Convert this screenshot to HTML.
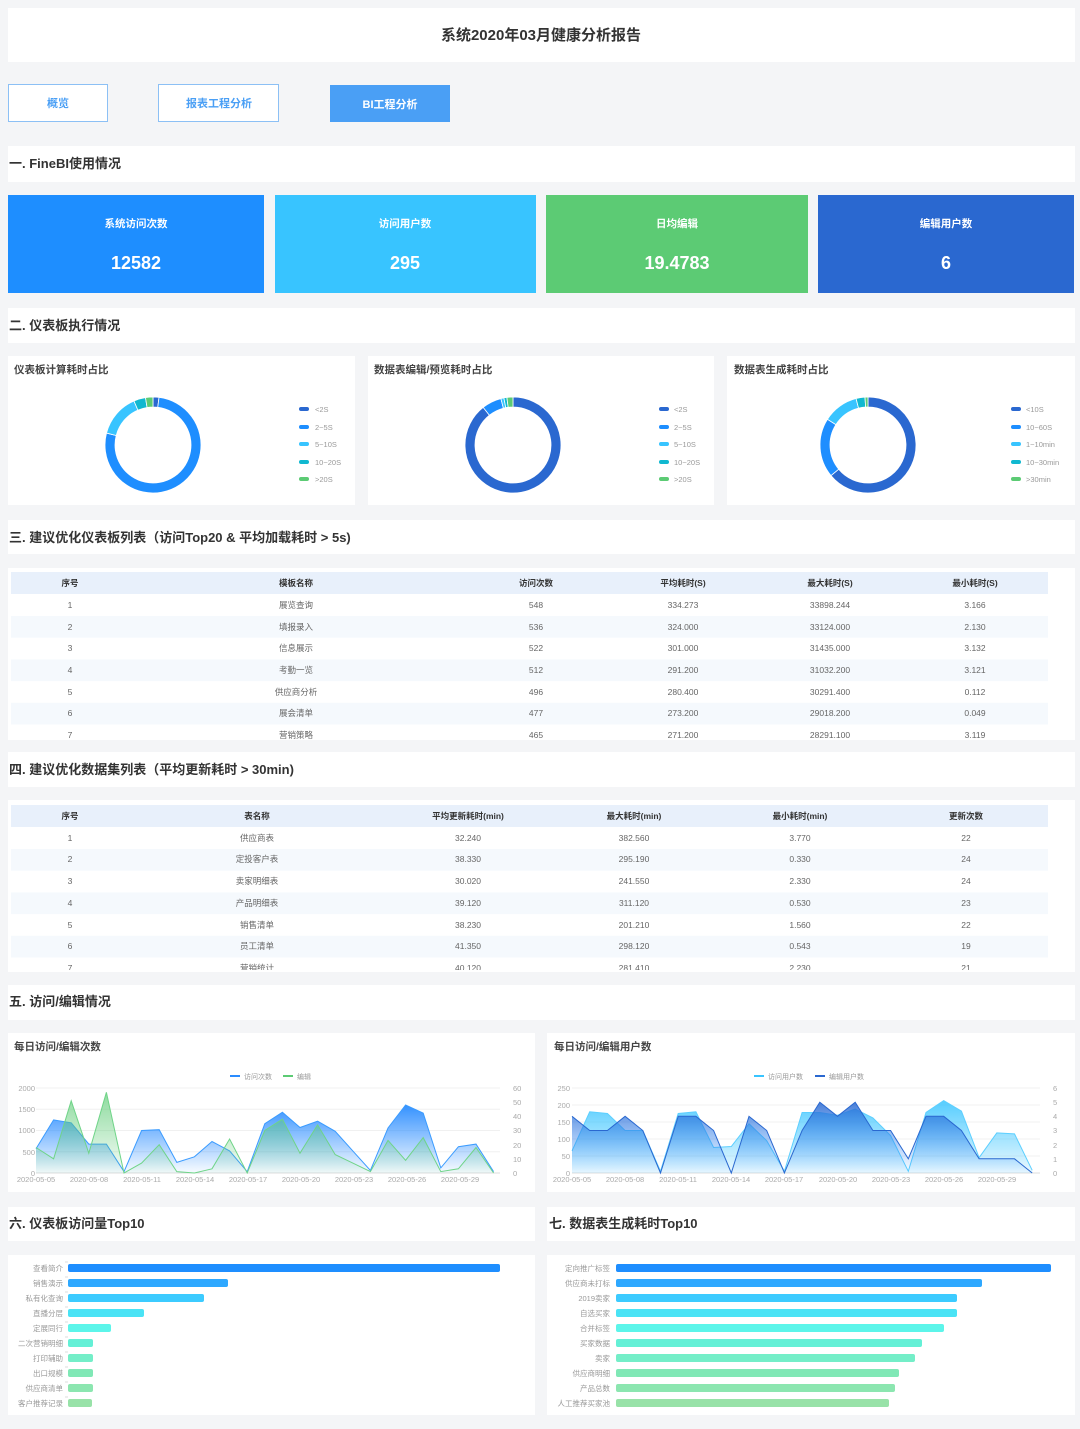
<!DOCTYPE html>
<html><head><meta charset="utf-8">
<style>
html,body{margin:0;padding:0;background:#f4f5f7;}
svg{display:block;font-family:"Liberation Sans","Noto Sans CJK SC",sans-serif;}
.t{font-size:8.5px;fill:#666;text-anchor:middle;}
.h{font-size:8.5px;fill:#333;font-weight:bold;text-anchor:middle;}
.sec{font-size:13px;font-weight:bold;fill:#333;}
.pt{font-size:10.5px;font-weight:bold;fill:#444;}
.lg{font-size:7.5px;fill:#999;}
.ax{font-size:7.5px;fill:#aaa;}
.bl{font-size:7.5px;fill:#999;text-anchor:end;}
</style></head><body>
<svg id="s" width="1080" height="1429" viewBox="0 0 1080 1429" xmlns="http://www.w3.org/2000/svg">
<defs>
<linearGradient id="gV" x1="0" y1="0" x2="0" y2="1"><stop offset="0" stop-color="#2a8cff" stop-opacity="0.95"/><stop offset="1" stop-color="#2a8cff" stop-opacity="0.03"/></linearGradient>
<linearGradient id="gE" x1="0" y1="0" x2="0" y2="1"><stop offset="0" stop-color="#5ccb74" stop-opacity="0.7"/><stop offset="1" stop-color="#5ccb74" stop-opacity="0.05"/></linearGradient>
<linearGradient id="gU" x1="0" y1="0" x2="0" y2="1"><stop offset="0" stop-color="#38c4ff" stop-opacity="0.85"/><stop offset="1" stop-color="#38c4ff" stop-opacity="0.1"/></linearGradient>
<linearGradient id="gD" x1="0" y1="0" x2="0" y2="1"><stop offset="0" stop-color="#2a68d0" stop-opacity="0.85"/><stop offset="1" stop-color="#2a8cff" stop-opacity="0.02"/></linearGradient>
<clipPath id="c1"><rect x="0" y="560" width="1080" height="179"/></clipPath>
<clipPath id="c2"><rect x="0" y="795" width="1080" height="175"/></clipPath>
</defs>
<rect width="1080" height="1429" fill="#f4f5f7"/>
<!-- title -->
<rect x="8" y="8" width="1067" height="54" fill="#fff"/>
<text x="541" y="40" text-anchor="middle" style="font-size:15px;font-weight:bold;fill:#333">系统2020年03月健康分析报告</text>
<!-- buttons -->
<rect x="8.5" y="84.5" width="99" height="37" fill="#fff" stroke="#8cc0f5"/>
<text x="58" y="107" text-anchor="middle" style="font-size:11px;font-weight:bold;fill:#4a9ff5">概览</text>
<rect x="158.5" y="84.5" width="120" height="37" fill="#fff" stroke="#8cc0f5"/>
<text x="219" y="107" text-anchor="middle" style="font-size:11px;font-weight:bold;fill:#4a9ff5">报表工程分析</text>
<rect x="330" y="85" width="120" height="37" fill="#4a9ff5"/>
<text x="390" y="108" text-anchor="middle" style="font-size:11px;font-weight:bold;fill:#fff">BI工程分析</text>
<!-- section 1 -->
<rect x="8" y="146" width="1067" height="36" fill="#fff"/>
<text x="9" y="168" class="sec">一. FineBI使用情况</text>
<rect x="8" y="195" width="256" height="98" fill="#1e8eff"/>
<rect x="275" y="195" width="261" height="98" fill="#38c4ff"/>
<rect x="546" y="195" width="262" height="98" fill="#5ccb74"/>
<rect x="818" y="195" width="256" height="98" fill="#2a68d0"/>
<g style="font-size:10.5px;font-weight:bold;fill:#fff" text-anchor="middle">
<text x="136" y="227">系统访问次数</text><text x="405" y="227">访问用户数</text><text x="677" y="227">日均编辑</text><text x="946" y="227">编辑用户数</text>
</g>
<g style="font-size:18px;font-weight:bold;fill:#fff" text-anchor="middle">
<text x="136" y="269">12582</text><text x="405" y="269">295</text><text x="677" y="269">19.4783</text><text x="946" y="269">6</text>
</g>
<!-- section 2 -->
<rect x="8" y="308" width="1067" height="35" fill="#fff"/>
<text x="9" y="330" class="sec">二. 仪表板执行情况</text>
<rect x="8" y="356" width="347" height="149" fill="#fff"/>
<rect x="368" y="356" width="346" height="149" fill="#fff"/>
<rect x="727" y="356" width="348" height="149" fill="#fff"/>
<text x="14" y="373" class="pt">仪表板计算耗时占比</text>
<text x="374" y="373" class="pt">数据表编辑/预览耗时占比</text>
<text x="734" y="373" class="pt">数据表生成耗时占比</text>
<g id="donuts"></g>
<g class="lg">
<text x="315" y="412">&lt;2S</text><text x="315" y="430">2~5S</text><text x="315" y="447">5~10S</text><text x="315" y="465">10~20S</text><text x="315" y="482">&gt;20S</text>
<text x="674" y="412">&lt;2S</text><text x="674" y="430">2~5S</text><text x="674" y="447">5~10S</text><text x="674" y="465">10~20S</text><text x="674" y="482">&gt;20S</text>
<text x="1026" y="412">&lt;10S</text><text x="1026" y="430">10~60S</text><text x="1026" y="447">1~10min</text><text x="1026" y="465">10~30min</text><text x="1026" y="482">&gt;30min</text>
</g>
<!-- section 3 -->
<rect x="8" y="520" width="1067" height="34" fill="#fff"/>
<text x="9" y="542" class="sec">三. 建议优化仪表板列表（访问Top20 &amp; 平均加载耗时 &gt; 5s)</text>
<rect x="8" y="568" width="1067" height="172" fill="#fff"/>
<g clip-path="url(#c1)">
<rect x="11" y="572" width="1037" height="22" fill="#e8f0fb"/>
<rect x="11" y="616" width="1037" height="21.7" fill="#f5f9fd"/>
<rect x="11" y="659.4" width="1037" height="21.7" fill="#f5f9fd"/>
<rect x="11" y="702.8" width="1037" height="21.7" fill="#f5f9fd"/>
<g class="h"><text x="70" y="586">序号</text><text x="296" y="586">模板名称</text><text x="536" y="586">访问次数</text><text x="683" y="586">平均耗时(S)</text><text x="830" y="586">最大耗时(S)</text><text x="975" y="586">最小耗时(S)</text></g>
<g class="t">
<text x="70" y="608">1</text><text x="296" y="608">展览查询</text><text x="536" y="608">548</text><text x="683" y="608">334.273</text><text x="830" y="608">33898.244</text><text x="975" y="608">3.166</text>
<text x="70" y="630">2</text><text x="296" y="630">填报录入</text><text x="536" y="630">536</text><text x="683" y="630">324.000</text><text x="830" y="630">33124.000</text><text x="975" y="630">2.130</text>
<text x="70" y="651">3</text><text x="296" y="651">信息展示</text><text x="536" y="651">522</text><text x="683" y="651">301.000</text><text x="830" y="651">31435.000</text><text x="975" y="651">3.132</text>
<text x="70" y="673">4</text><text x="296" y="673">考勤一览</text><text x="536" y="673">512</text><text x="683" y="673">291.200</text><text x="830" y="673">31032.200</text><text x="975" y="673">3.121</text>
<text x="70" y="695">5</text><text x="296" y="695">供应商分析</text><text x="536" y="695">496</text><text x="683" y="695">280.400</text><text x="830" y="695">30291.400</text><text x="975" y="695">0.112</text>
<text x="70" y="716">6</text><text x="296" y="716">展会清单</text><text x="536" y="716">477</text><text x="683" y="716">273.200</text><text x="830" y="716">29018.200</text><text x="975" y="716">0.049</text>
<text x="70" y="738">7</text><text x="296" y="738">营销策略</text><text x="536" y="738">465</text><text x="683" y="738">271.200</text><text x="830" y="738">28291.100</text><text x="975" y="738">3.119</text>
</g></g>
<!-- section 4 -->
<rect x="8" y="752" width="1067" height="35" fill="#fff"/>
<text x="9" y="774" class="sec">四. 建议优化数据集列表（平均更新耗时 &gt; 30min)</text>
<rect x="8" y="800" width="1067" height="172" fill="#fff"/>
<g clip-path="url(#c2)">
<rect x="11" y="805" width="1037" height="22" fill="#e8f0fb"/>
<rect x="11" y="849" width="1037" height="21.7" fill="#f5f9fd"/>
<rect x="11" y="892.4" width="1037" height="21.7" fill="#f5f9fd"/>
<rect x="11" y="935.8" width="1037" height="21.7" fill="#f5f9fd"/>
<g class="h"><text x="70" y="819">序号</text><text x="257" y="819">表名称</text><text x="468" y="819">平均更新耗时(min)</text><text x="634" y="819">最大耗时(min)</text><text x="800" y="819">最小耗时(min)</text><text x="966" y="819">更新次数</text></g>
<g class="t">
<text x="70" y="841">1</text><text x="257" y="841">供应商表</text><text x="468" y="841">32.240</text><text x="634" y="841">382.560</text><text x="800" y="841">3.770</text><text x="966" y="841">22</text>
<text x="70" y="862">2</text><text x="257" y="862">定投客户表</text><text x="468" y="862">38.330</text><text x="634" y="862">295.190</text><text x="800" y="862">0.330</text><text x="966" y="862">24</text>
<text x="70" y="884">3</text><text x="257" y="884">卖家明细表</text><text x="468" y="884">30.020</text><text x="634" y="884">241.550</text><text x="800" y="884">2.330</text><text x="966" y="884">24</text>
<text x="70" y="906">4</text><text x="257" y="906">产品明细表</text><text x="468" y="906">39.120</text><text x="634" y="906">311.120</text><text x="800" y="906">0.530</text><text x="966" y="906">23</text>
<text x="70" y="928">5</text><text x="257" y="928">销售清单</text><text x="468" y="928">38.230</text><text x="634" y="928">201.210</text><text x="800" y="928">1.560</text><text x="966" y="928">22</text>
<text x="70" y="949">6</text><text x="257" y="949">员工清单</text><text x="468" y="949">41.350</text><text x="634" y="949">298.120</text><text x="800" y="949">0.543</text><text x="966" y="949">19</text>
<text x="70" y="971">7</text><text x="257" y="971">营销统计</text><text x="468" y="971">40.120</text><text x="634" y="971">281.410</text><text x="800" y="971">2.230</text><text x="966" y="971">21</text>
</g></g>
<!-- section 5 -->
<rect x="8" y="985" width="1067" height="35" fill="#fff"/>
<text x="9" y="1006" class="sec">五. 访问/编辑情况</text>
<rect x="8" y="1033" width="527" height="159" fill="#fff"/>
<rect x="547" y="1033" width="528" height="159" fill="#fff"/>
<text x="14" y="1050" class="pt">每日访问/编辑次数</text>
<text x="554" y="1050" class="pt">每日访问/编辑用户数</text>
<rect x="230" y="1075" width="10" height="2" fill="#2a8cff"/><text x="244" y="1079" class="lg" style="font-size:7px">访问次数</text>
<rect x="283" y="1075" width="10" height="2" fill="#5ccb74"/><text x="297" y="1079" class="lg" style="font-size:7px">编辑</text>
<rect x="754" y="1075" width="10" height="2" fill="#38c4ff"/><text x="768" y="1079" class="lg" style="font-size:7px">访问用户数</text>
<rect x="815" y="1075" width="10" height="2" fill="#2a68d0"/><text x="829" y="1079" class="lg" style="font-size:7px">编辑用户数</text>
<g id="grids"></g>
<g class="ax" text-anchor="end">
<text x="35" y="1176">0</text><text x="35" y="1155">500</text><text x="35" y="1133">1000</text><text x="35" y="1112">1500</text><text x="35" y="1091">2000</text>
<text x="570" y="1176">0</text><text x="570" y="1159">50</text><text x="570" y="1142">100</text><text x="570" y="1125">150</text><text x="570" y="1108">200</text><text x="570" y="1091">250</text>
</g>
<g class="ax">
<text x="513" y="1176">0</text><text x="513" y="1162">10</text><text x="513" y="1148">20</text><text x="513" y="1133">30</text><text x="513" y="1119">40</text><text x="513" y="1105">50</text><text x="513" y="1091">60</text>
<text x="1053" y="1176">0</text><text x="1053" y="1162">1</text><text x="1053" y="1148">2</text><text x="1053" y="1133">3</text><text x="1053" y="1119">4</text><text x="1053" y="1105">5</text><text x="1053" y="1091">6</text>
</g>
<g class="ax" text-anchor="middle">
<text x="36" y="1182">2020-05-05</text><text x="89" y="1182">2020-05-08</text><text x="142" y="1182">2020-05-11</text><text x="195" y="1182">2020-05-14</text><text x="248" y="1182">2020-05-17</text><text x="301" y="1182">2020-05-20</text><text x="354" y="1182">2020-05-23</text><text x="407" y="1182">2020-05-26</text><text x="460" y="1182">2020-05-29</text>
<text x="572" y="1182">2020-05-05</text><text x="625" y="1182">2020-05-08</text><text x="678" y="1182">2020-05-11</text><text x="731" y="1182">2020-05-14</text><text x="784" y="1182">2020-05-17</text><text x="838" y="1182">2020-05-20</text><text x="891" y="1182">2020-05-23</text><text x="944" y="1182">2020-05-26</text><text x="997" y="1182">2020-05-29</text>
</g>
<g id="areas"></g>
<!-- section 6/7 -->
<rect x="8" y="1207" width="527" height="34" fill="#fff"/>
<text x="9" y="1228" class="sec">六. 仪表板访问量Top10</text>
<rect x="547" y="1207" width="528" height="34" fill="#fff"/>
<text x="549" y="1228" class="sec">七. 数据表生成耗时Top10</text>
<rect x="8" y="1255" width="527" height="160" fill="#fff"/>
<rect x="547" y="1255" width="528" height="160" fill="#fff"/>
<g class="bl">
<text x="63" y="1271">查看简介</text><text x="63" y="1286">销售演示</text><text x="63" y="1301">私有化查询</text><text x="63" y="1316">直播分层</text><text x="63" y="1331">定展同行</text><text x="63" y="1346">二次营销明细</text><text x="63" y="1361">打印辅助</text><text x="63" y="1376">出口规模</text><text x="63" y="1391">供应商清单</text><text x="63" y="1406">客户推荐记录</text>
<text x="610" y="1271">定向推广标签</text><text x="610" y="1286">供应商未打标</text><text x="610" y="1301">2019卖家</text><text x="610" y="1316">自选买家</text><text x="610" y="1331">合并标签</text><text x="610" y="1346">买家数据</text><text x="610" y="1361">卖家</text><text x="610" y="1376">供应商明细</text><text x="610" y="1391">产品总数</text><text x="610" y="1406">人工推荐买家池</text>
</g>
<g id="bars"></g>
</svg>
<script>
var NS="http://www.w3.org/2000/svg";
function el(p,t,a){var e=document.createElementNS(NS,t);for(var k in a)e.setAttribute(k,a[k]);p.appendChild(e);return e;}
// donuts
var D=document.getElementById('donuts');
var cols=["#2a68d0","#1e8eff","#38c4ff","#10b8d0","#5ccb74"];
var sets=[[153,445,[2,77,14.5,4,2.5]],[513,445,[88,6.5,1,1,2]],[868,445,[64,20,12,3,1]]];
var lx=[303,663,1015];
sets.forEach(function(s,si){
 var tot=s[2].reduce(function(a,b){return a+b},0),a0=-Math.PI/2,R=48,r=38;
 s[2].forEach(function(v,i){
  var a1=a0+v/tot*2*Math.PI,lg=(a1-a0)>Math.PI?1:0;
  var p="M"+(s[0]+R*Math.cos(a0))+","+(s[1]+R*Math.sin(a0))+"A"+R+","+R+" 0 "+lg+" 1 "+(s[0]+R*Math.cos(a1))+","+(s[1]+R*Math.sin(a1))+"L"+(s[0]+r*Math.cos(a1))+","+(s[1]+r*Math.sin(a1))+"A"+r+","+r+" 0 "+lg+" 0 "+(s[0]+r*Math.cos(a0))+","+(s[1]+r*Math.sin(a0))+"Z";
  el(D,"path",{d:p,fill:cols[i],stroke:"#fff","stroke-width":0.8});
  a0=a1;
 });
 for(var i=0;i<5;i++){var y=[409,427,444,462,479][i];el(D,"rect",{x:lx[si]-4,y:y-2,width:10,height:4,rx:2,fill:cols[i]});}
});
// grids
var G=document.getElementById('grids');
for(var i=0;i<=6;i++){var y=1173-i*85/6;}
[[36,500,4],[572,1040,5]].forEach(function(g){for(var i=0;i<=g[2];i++){var y=1173-i*85/g[2];el(G,"line",{x1:g[0],x2:g[1],y1:y,y2:y,stroke:i==0?"#ddd":"#f0f0f0","stroke-width":1});}});
// areas
var A=document.getElementById('areas');
function area(x0,dx,data,max,fill,stroke){
 var pts=data.map(function(v,i){return [x0+i*dx,1173-v/max*85];});
 var d="M"+pts.map(function(p){return p[0].toFixed(1)+","+p[1].toFixed(1)}).join("L");
 el(A,"path",{d:d+"L"+pts[pts.length-1][0]+",1173L"+x0+",1173Z",fill:fill});
 el(A,"path",{d:d,fill:"none",stroke:stroke,"stroke-width":1});
}
var vis=[570,1250,1180,680,680,30,1000,1020,250,380,740,520,30,1160,1430,1070,1220,980,520,60,1060,1600,1410,120,620,680,30];
var edt=[18,10,51,14,57,0,7,20,1,0,3,24,0,30,38,14,34,13,7,1,23,9,25,1,3,18,0];
area(36,17.6,vis,2000,"url(#gV)","#3a9bff");
area(36,17.6,edt,60,"url(#gE)","#6fd488");
var usr=[65,180,175,125,125,5,175,180,75,78,145,95,5,178,178,170,188,162,110,5,178,213,182,45,118,115,8];
var edu=[4,3,3,4,3,0,4,4,3,0,4,3,0,3,5,4,5,3,3,1,4,4,3,1,1,1,0];
area(572,17.7,usr,250,"url(#gU)","#5ccfff");
area(572,17.7,edu,6,"url(#gD)","#2a68d0");
// bars
var B=document.getElementById('bars');
var bc=["#1e8eff","#2ea8ff","#3ccbff","#4ae3f5","#5cf5ea","#64f0d6","#74eec8","#80e8b6","#8ce6b0","#98e2a8"];
var e1=[500,228,204,144,111,93,93,93,93,92],e2=[1051,982,957,957,944,922,915,899,895,889];
for(var i=0;i<10;i++){var y=1264+i*15;
 el(B,"rect",{x:68,y:y,width:e1[i]-68,height:8,rx:2,fill:bc[i]});
 el(B,"rect",{x:616,y:y,width:e2[i]-616,height:8,rx:2,fill:bc[i]});
 el(B,"line",{x1:65,x2:68,y1:y-2,y2:y-2,stroke:"#ddd"});
}
</script>
</body></html>
